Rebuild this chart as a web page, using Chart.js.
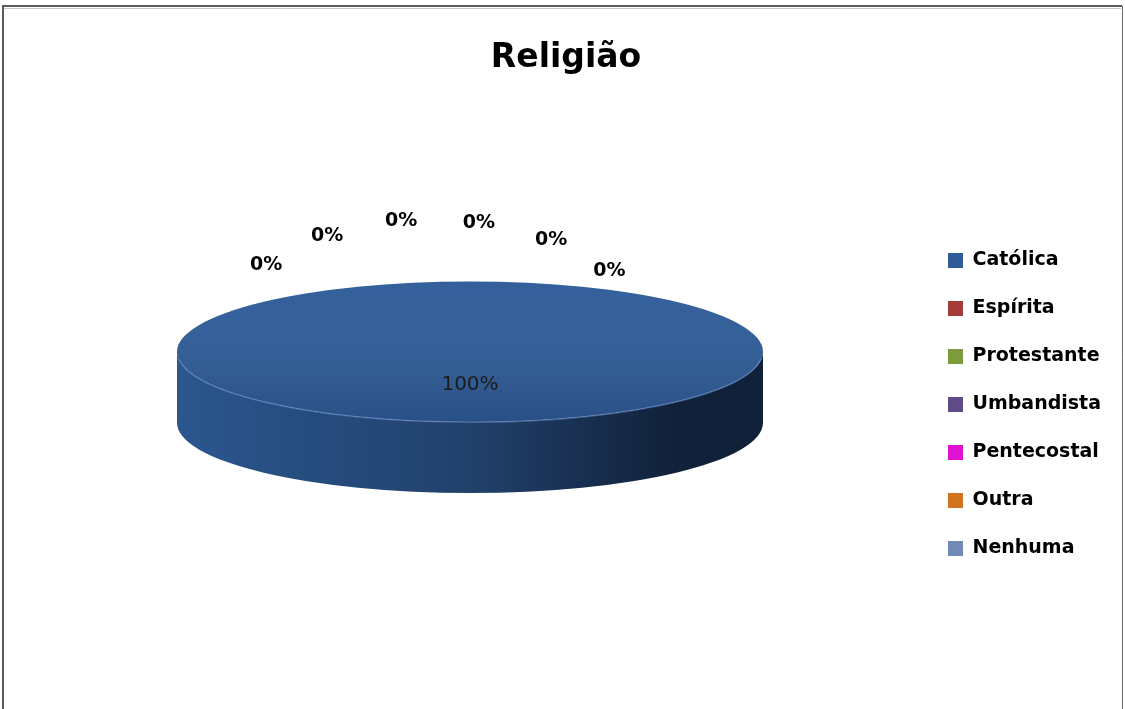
<!DOCTYPE html>
<html>
<head>
<meta charset="utf-8">
<script src="https://cdn.jsdelivr.net/npm/chart.js@4"></script>
<style>
  html, body { margin: 0; padding: 0; background: #fff; }
  canvas { display: block; }
</style>
</head>
<body>
<canvas id="religiaoChart" width="1125" height="709"></canvas>
<script>
const categories = ['Católica', 'Espírita', 'Protestante', 'Umbandista', 'Pentecostal', 'Outra', 'Nenhuma'];
const percentages = [100, 0, 0, 0, 0, 0, 0];
const sliceColors = ['#2f5c99', '#a33b39', '#7c9c3c', '#5f4b88', '#e012d2', '#d2741f', '#7089b5'];
// side of the disc: left / middle / right shade
const sideShades = {
    '#2f5c99': ['#2b568e', '#21416c', '#112139']
};

const TILT = 0.24;   // vertical squash of the disc
const DEPTH = 71;    // thickness of the disc

// front half of each slice, clipped to angles 0..PI (lower half on screen)
function frontParts(start, end) {
    const parts = [];
    for (let k = -2; k <= 2; k++) {
        const s = Math.max(start + k * 2 * Math.PI, 0);
        const e = Math.min(end + k * 2 * Math.PI, Math.PI);
        if (e > s) parts.push([s, e]);
    }
    return parts;
}

const pie3d = {
    id: 'pie3d',
    beforeDraw(chart) {
        const ctx = chart.ctx;
        ctx.save();
        ctx.fillStyle = '#fff';
        ctx.fillRect(0, 0, chart.width, chart.height);
        ctx.strokeStyle = '#5a5a5a';
        ctx.lineWidth = 2;
        ctx.beginPath();
        ctx.moveTo(3, chart.height);
        ctx.lineTo(3, 6);
        ctx.lineTo(1122, 6);
        ctx.stroke();
        ctx.strokeStyle = '#c8c8c8';
        ctx.lineWidth = 1;
        ctx.beginPath();
        ctx.moveTo(4, 8.5);
        ctx.lineTo(1121, 8.5);
        ctx.stroke();
        ctx.strokeStyle = '#6a6a6a';
        ctx.beginPath();
        ctx.moveTo(1122.5, 6);
        ctx.lineTo(1122.5, chart.height);
        ctx.stroke();
        ctx.restore();
    },
    beforeDatasetsDraw(chart) {
        const ctx = chart.ctx;
        const meta = chart.getDatasetMeta(0);
        meta.data.forEach((arc, i) => {
            const {x, y, outerRadius: r, startAngle, endAngle} = arc;
            if (endAngle - startAngle <= 0) return;
            const base = sliceColors[i];
            const shades = sideShades[base] || [base, base, base];
            frontParts(startAngle, endAngle).forEach(([a0, a1]) => {
                const g = ctx.createLinearGradient(x - r, 0, x + r, 0);
                g.addColorStop(0, shades[0]);
                g.addColorStop(0.5, shades[1]);
                g.addColorStop(0.85, shades[2]);
                g.addColorStop(1, shades[2]);
                ctx.save();
                ctx.beginPath();
                ctx.ellipse(x, y, r, r * TILT, 0, a0, a1, false);
                ctx.ellipse(x, y + DEPTH, r, r * TILT, 0, a1, a0, true);
                ctx.closePath();
                ctx.fillStyle = g;
                ctx.fill();
                ctx.restore();
            });
        });
        const first = meta.data[0];
        ctx.save();
        ctx.translate(first.x, first.y);
        ctx.scale(1, TILT);
        ctx.translate(-first.x, -first.y);
    },
    afterDatasetsDraw(chart) {
        const ctx = chart.ctx;
        const meta = chart.getDatasetMeta(0);
        const first = meta.data[0];
        const {x, y, outerRadius: r} = first;
        // soft shading on the top face (still in squashed space)
        const g = ctx.createLinearGradient(0, y - r, 0, y + r);
        g.addColorStop(0, 'rgba(255,255,255,0.02)');
        g.addColorStop(1, 'rgba(0,0,0,0.13)');
        ctx.beginPath();
        ctx.arc(x, y, r, 0, Math.PI * 2);
        ctx.fillStyle = g;
        ctx.fill();
        ctx.restore();

        // light rim on the front edge of the top face
        ctx.save();
        ctx.beginPath();
        ctx.ellipse(x, y + 1, r - 1, r * TILT - 1, 0, Math.PI * 0.03, Math.PI * 0.97);
        ctx.strokeStyle = 'rgba(110,150,210,0.5)';
        ctx.lineWidth = 1.5;
        ctx.stroke();
        ctx.restore();

        // percentage labels; zero slices share one angle, so spread them round the top
        const data = chart.data.datasets[0].data;
        const total = data.reduce((a, b) => a + b, 0);
        const zeros = [];
        meta.data.forEach((arc, i) => { if (data[i] === 0) zeros.push(i); });
        const step = 20 * Math.PI / 180;
        ctx.save();
        ctx.textAlign = 'center';
        ctx.textBaseline = 'middle';
        meta.data.forEach((arc, i) => {
            const pct = Math.round(data[i] / total * 100) + '%';
            let lx, ly;
            if (data[i] === 0) {
                const j = zeros.indexOf(i);
                const ang = arc.startAngle + (j - (zeros.length - 1) / 2) * step + 0.03;
                lx = x - r * 0.125 + Math.cos(ang) * r * 0.765;
                ly = y + r * 0.01 + Math.sin(ang) * r * 0.46;
                ctx.font = 'bold 19px "DejaVu Sans"';
                ctx.fillStyle = '#000';
            } else {
                const mid = (arc.startAngle + arc.endAngle) / 2;
                lx = x + Math.cos(mid) * r * 0.5;
                ly = y + Math.sin(mid) * r * TILT * 0.47;
                ctx.font = '20px "DejaVu Sans"';
                ctx.fillStyle = '#1c1c1c';
            }
            ctx.fillText(pct, lx, ly);
        });
        ctx.restore();
    }
};

new Chart(document.getElementById('religiaoChart'), {
    type: 'pie',
    data: {
        labels: categories,
        datasets: [{
            data: percentages,
            backgroundColor: sliceColors,
            borderWidth: 0
        }]
    },
    options: {
        responsive: false,
        animation: false,
        devicePixelRatio: 1,
        rotation: 0,
        radius: 293,
        layout: { padding: { left: 21, right: 14, top: 0, bottom: 122 } },
        plugins: {
            title: {
                display: true,
                text: 'Religião',
                color: '#000',
                font: { family: 'DejaVu Sans', weight: 'bold', size: 33 },
                padding: { top: 39, bottom: 38 }
            },
            legend: {
                position: 'right',
                align: 'end',
                labels: {
                    color: '#000',
                    font: { family: 'DejaVu Sans', weight: 'bold', size: 19 },
                    boxWidth: 15,
                    boxHeight: 15,
                    padding: 29
                }
            },
            tooltip: { enabled: false }
        }
    },
    plugins: [pie3d]
});
</script>
</body>
</html>
